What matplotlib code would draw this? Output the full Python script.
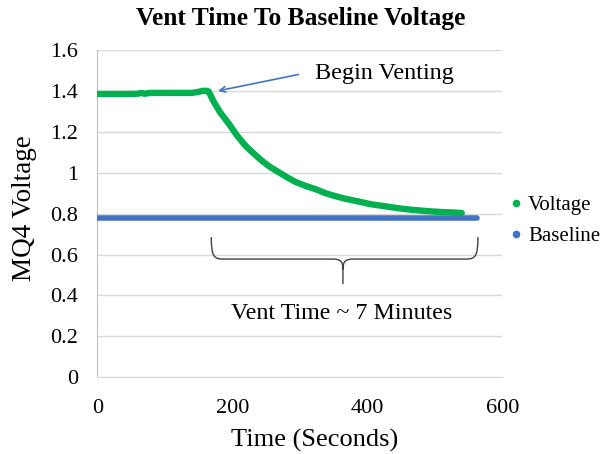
import numpy as np
import matplotlib
matplotlib.use("Agg")
import matplotlib.pyplot as plt
from matplotlib.path import Path
from matplotlib.patches import PathPatch
from matplotlib.lines import Line2D

plt.rcParams['font.family'] = ['Liberation Serif', 'DejaVu Serif']

# voltage (seconds, volts)
volt_t = [0, 10, 20, 30, 40, 50, 60, 65, 70, 78, 90, 100, 110, 120, 130, 140,
          150, 156, 162, 165, 172, 182, 195, 207, 219, 231, 244, 256, 270,
          282, 293, 308, 323, 338, 352, 367, 380, 393, 405, 420, 434, 449,
          464, 479, 494, 508, 523, 540]
volt_v = [1.385, 1.385, 1.385, 1.385, 1.385, 1.385, 1.386, 1.39, 1.386, 1.39,
          1.39, 1.39, 1.39, 1.39, 1.39, 1.39, 1.395, 1.40, 1.40, 1.397, 1.35,
          1.295, 1.239, 1.182, 1.134, 1.096, 1.058, 1.028, 1.000, 0.976,
          0.956, 0.936, 0.920, 0.900, 0.886, 0.873, 0.864, 0.855, 0.846,
          0.839, 0.832, 0.825, 0.819, 0.815, 0.811, 0.808, 0.806, 0.803]

base_t = [0, 100, 200, 300, 400, 500, 563]
base_v = [0.78, 0.78, 0.78, 0.78, 0.78, 0.78, 0.78]

green = '#00b050'
blue = '#4472c4'

fig = plt.figure(figsize=(6.08, 4.54), dpi=100)
ax = fig.add_axes([0.160, 0.169, 0.666, 0.721])

ax.plot(base_t, base_v, color=blue, lw=4.0, solid_capstyle='round', zorder=3)
ax.plot(volt_t, volt_v, color=green, lw=4.6, solid_capstyle='round',
        solid_joinstyle='round', zorder=4)

ax.set_xlim(0, 600)
ax.set_ylim(0, 1.6)
ax.set_xticks([0, 200, 400, 600])
ax.set_yticks([0, 0.2, 0.4, 0.6, 0.8, 1.0, 1.2, 1.4, 1.6])
ax.set_yticklabels(['0', '0.2', '0.4', '0.6', '0.8', '1', '1.2', '1.4', '1.6'])
ax.tick_params(axis='both', length=0, labelsize=16)
ax.tick_params(axis='x', pad=16)
ax.tick_params(axis='y', pad=14)
ax.grid(axis='y', color='#d9d9d9', lw=1)
ax.set_axisbelow(True)
for s in ['top', 'right']:
    ax.spines[s].set_visible(False)
ax.spines['left'].set_color('#bfbfbf')
ax.spines['bottom'].set_color('#d9d9d9')

fig.text(25 / 608, 1 - 208 / 454, 'MQ4 Voltage', fontsize=19.5,
         rotation=90, ha='center', va='center')
fig.text(315 / 608, 1 - 440 / 454, 'Time (Seconds)', fontsize=19,
         ha='center', va='center')
fig.text(301 / 608, 1 - 18 / 454, 'Vent Time To Baseline Voltage',
         fontsize=18.4, fontweight='bold', ha='center', va='center')

# arrow and label for venting start
ax.annotate('', xy=(179, 1.40), xytext=(298, 1.48),
            arrowprops=dict(arrowstyle='->', color=blue, lw=1.2,
                            shrinkA=0, shrinkB=0))
ax.text(426, 1.487, 'Begin Venting', fontsize=17.4, ha='center', va='center')

# brace under the decay
x0, x1, xm = 169, 564, 364
yt, ym, yb = 0.685, 0.578, 0.455
verts = [(x0, yt), (x0, ym + 0.01), (x0 + 4, ym), (x0 + 18, ym),
         (xm - 16, ym),
         (xm - 4, ym), (xm, ym - 0.01), (xm, ym - 0.05),
         (xm, yb),
         (xm, ym - 0.05),
         (xm, ym - 0.01), (xm + 4, ym), (xm + 16, ym),
         (x1 - 18, ym),
         (x1 - 4, ym), (x1, ym + 0.01), (x1, yt)]
codes = [Path.MOVETO, Path.CURVE4, Path.CURVE4, Path.CURVE4,
         Path.LINETO,
         Path.CURVE4, Path.CURVE4, Path.CURVE4,
         Path.LINETO,
         Path.MOVETO,
         Path.CURVE4, Path.CURVE4, Path.CURVE4,
         Path.LINETO,
         Path.CURVE4, Path.CURVE4, Path.CURVE4]
ax.add_patch(PathPatch(Path(verts, codes), fill=False, ec='#404040',
                       lw=1.0, clip_on=False, zorder=5))
ax.text(362, 0.31, 'Vent Time ~ 7 Minutes', fontsize=17.3,
        ha='center', va='center')

handles = [Line2D([], [], color=green, marker='o', ls='none', ms=4.5),
           Line2D([], [], color=blue, marker='o', ls='none', ms=4.5)]
fig.legend(handles, ['Voltage', 'Baseline'], loc='center left',
           bbox_to_anchor=(497 / 608, 1 - 221 / 454), frameon=False,
           fontsize=15, handletextpad=0.1, handlelength=1.0,
           labelspacing=0.55, borderaxespad=0)

fig.savefig('out.png', dpi=100)
